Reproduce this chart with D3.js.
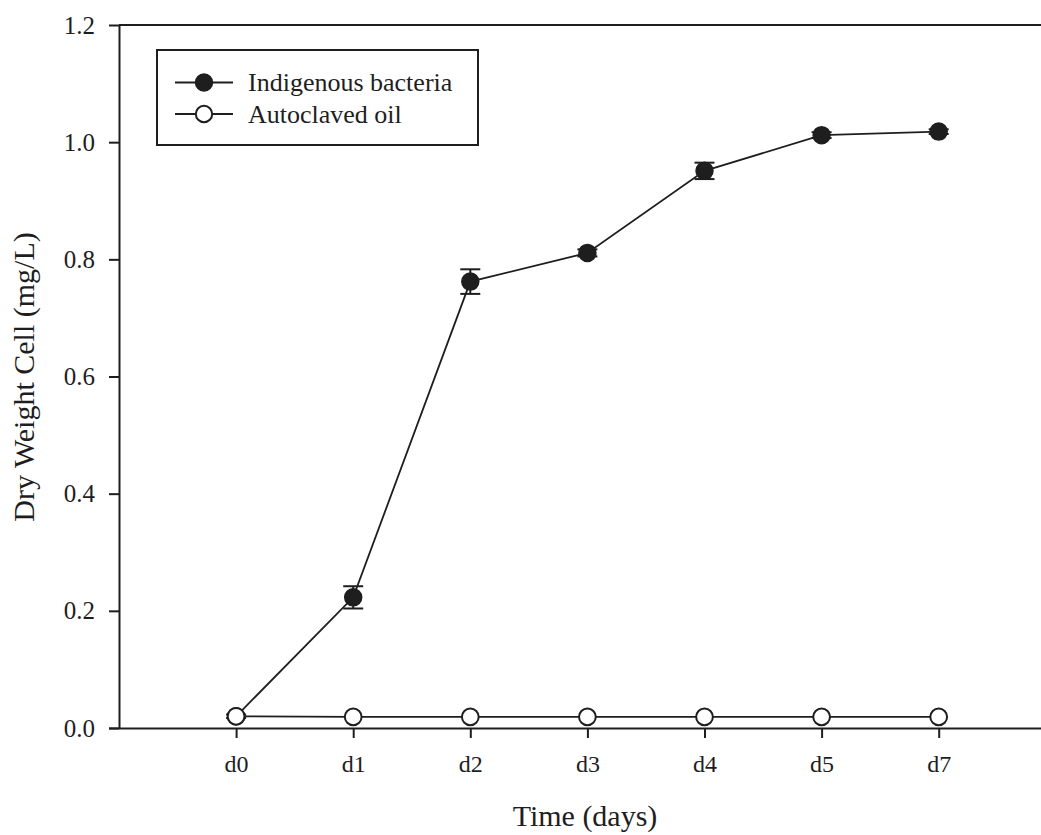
<!DOCTYPE html>
<html>
<head>
<meta charset="utf-8">
<script src="https://cdn.jsdelivr.net/npm/d3@7"></script>
<style>
  html, body { margin: 0; padding: 0; background: #fff; }
  svg { display: block; }
  text { font-family: "Liberation Serif", "Times New Roman", serif; fill: #1e1e1e; }
</style>
</head>
<body>
<svg id="chart" width="1041" height="835"></svg>
<script>
// Sampling days
const days = ["d0", "d1", "d2", "d3", "d4", "d5", "d7"];

// Dry cell weight (mg/L) and standard error
const indigenous = [0.020, 0.223, 0.762, 0.811, 0.951, 1.012, 1.018];
const indigenousErr = [0.003, 0.019, 0.021, 0.006, 0.014, 0.005, 0.004];
const autoclaved = [0.020, 0.019, 0.019, 0.019, 0.019, 0.019, 0.019];

const yTicks = [0.0, 0.2, 0.4, 0.6, 0.8, 1.0, 1.2];
const legendLabels = ["Indigenous bacteria", "Autoclaved oil"];

const svg = d3.select("#chart");
const ink = "#1e1e1e";

const plotLeft = 119, plotTop = 25, plotBottom = 728, plotRight = 1041;

// Categorical positions: index -1 sits on the y axis, spacing ~117px
const x = d3.scaleLinear().domain([-1, 7]).range([plotLeft, plotLeft + 8 * 117.1]);
const y = d3.scaleLinear().domain([0, 1.2]).range([plotBottom, plotTop]);

// Top frame line
svg.append("line")
  .attr("x1", plotLeft).attr("x2", plotRight)
  .attr("y1", plotTop).attr("y2", plotTop)
  .attr("stroke", ink).attr("stroke-width", 2);

// Y axis
const yAxis = d3.axisLeft(y).tickValues(yTicks).tickFormat(d3.format(".1f"))
  .tickSize(10).tickSizeOuter(0).tickPadding(14);
const gy = svg.append("g").attr("transform", `translate(${plotLeft},0)`).call(yAxis);
gy.select(".domain").attr("stroke", ink).attr("stroke-width", 2);
gy.selectAll(".tick line").attr("stroke", ink).attr("stroke-width", 2);
gy.selectAll(".tick text").attr("font-size", 25).attr("fill", ink)
  .attr("font-family", "Liberation Serif, serif");

// X axis
const xAxis = d3.axisBottom(x).tickValues(d3.range(days.length))
  .tickFormat(i => days[i]).tickSize(10).tickSizeOuter(0).tickPadding(17);
const gx = svg.append("g").attr("transform", `translate(0,${plotBottom})`).call(xAxis);
gx.select(".domain").attr("d", `M${plotLeft - 10},0.5H${plotRight}`)
  .attr("stroke", ink).attr("stroke-width", 2);
gx.selectAll(".tick line").attr("stroke", ink).attr("stroke-width", 2);
gx.selectAll(".tick text").attr("font-size", 24).attr("fill", ink)
  .attr("font-family", "Liberation Serif, serif");

// Axis titles
svg.append("text")
  .attr("x", 585).attr("y", 826)
  .attr("text-anchor", "middle").attr("font-size", 30)
  .text("Time (days)");
svg.append("text")
  .attr("transform", `translate(34,377) rotate(-90)`)
  .attr("text-anchor", "middle").attr("font-size", 30)
  .text("Dry Weight Cell (mg/L)");

const line = d3.line().x((d, i) => x(i)).y(d => y(d));

// Indigenous bacteria series
svg.append("path").datum(indigenous)
  .attr("d", line).attr("fill", "none")
  .attr("stroke", ink).attr("stroke-width", 1.8);

// Error bars
const eb = svg.append("g");
indigenous.forEach((v, i) => {
  const e = indigenousErr[i];
  const cx = x(i);
  const g = eb.append("g").attr("stroke", ink).attr("stroke-width", 2);
  g.append("line").attr("x1", cx).attr("x2", cx).attr("y1", y(v + e)).attr("y2", y(v - e));
  g.append("line").attr("x1", cx - 10).attr("x2", cx + 10).attr("y1", y(v + e)).attr("y2", y(v + e));
  g.append("line").attr("x1", cx - 10).attr("x2", cx + 10).attr("y1", y(v - e)).attr("y2", y(v - e));
});

svg.append("g").selectAll("circle").data(indigenous).join("circle")
  .attr("cx", (d, i) => x(i)).attr("cy", d => y(d)).attr("r", 8.5)
  .attr("fill", ink).attr("stroke", ink).attr("stroke-width", 1.5);

// Autoclaved oil series (drawn last so its open markers sit on top)
svg.append("path").datum(autoclaved)
  .attr("d", line).attr("fill", "none")
  .attr("stroke", ink).attr("stroke-width", 1.8);

svg.append("g").selectAll("circle").data(autoclaved).join("circle")
  .attr("cx", (d, i) => x(i)).attr("cy", d => y(d)).attr("r", 8.4)
  .attr("fill", "#fff").attr("stroke", ink).attr("stroke-width", 2);

// Legend
const lg = svg.append("g");
lg.append("rect").attr("x", 157).attr("y", 50).attr("width", 321).attr("height", 95)
  .attr("fill", "#fff").attr("stroke", ink).attr("stroke-width", 2);
legendLabels.forEach((label, i) => {
  const ly = 82.5 + i * 31.5;
  lg.append("line").attr("x1", 175).attr("x2", 233).attr("y1", ly).attr("y2", ly)
    .attr("stroke", ink).attr("stroke-width", 1.8);
  lg.append("circle").attr("cx", 204).attr("cy", ly).attr("r", i === 0 ? 8.5 : 8.2)
    .attr("fill", i === 0 ? ink : "#fff").attr("stroke", ink).attr("stroke-width", i === 0 ? 1.5 : 2);
  lg.append("text").attr("x", 248).attr("y", ly).attr("dy", "0.33em")
    .attr("font-size", 26).text(label);
});
</script>
</body>
</html>
